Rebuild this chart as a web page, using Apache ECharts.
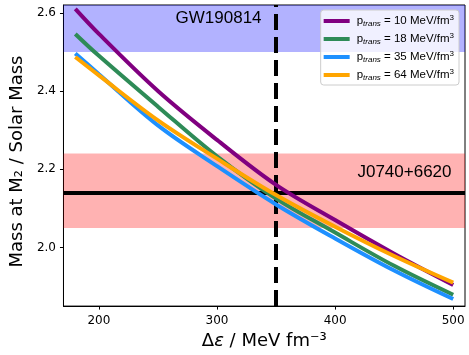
<!DOCTYPE html>
<html><head><meta charset="utf-8">
<script src="https://cdn.jsdelivr.net/npm/echarts@6/dist/echarts.min.js"></script>
<style>html,body{margin:0;padding:0;background:#fff}#c{width:469px;height:355px}</style>
</head><body><div id="c"></div>
<script>
// ---- data ----
const deltaEps = [180, 200, 250, 300, 350, 400, 450, 500];
const mass_p10 = [2.610, 2.546, 2.400, 2.275, 2.160, 2.070, 1.984, 1.904];
const mass_p18 = [2.546, 2.490, 2.360, 2.233, 2.125, 2.038, 1.953, 1.879];
const mass_p35 = [2.496, 2.443, 2.312, 2.208, 2.110, 2.023, 1.941, 1.868];
const mass_p64 = [2.487, 2.440, 2.325, 2.227, 2.134, 2.053, 1.978, 1.910];
const ptransValues = [10, 18, 35, 64];
const xTicks = [200, 300, 400, 500];
const yTicks = [2.0, 2.2, 2.4, 2.6];
const xRange = [170, 510];
const yRange = [1.85, 2.62];
const gwBand = [2.50, 2.62];
const j0740Band = [2.05, 2.24];
const j0740Mass = 2.14;
const deltaEpsCut = 350;
const annotationTexts = ['GW190814', 'J0740+6620'];
const annotationX = [270, 424];
const annotationY = [2.585, 2.193];

// ---- styles ----
const colors = ['#800080', '#2e8b57', '#1e90ff', '#ffa500'];
const massSeries = [mass_p10, mass_p18, mass_p35, mass_p64];
const names = ptransValues.map(v => 'p_trans = ' + v + ' MeV/fm3');

const chart = echarts.init(document.getElementById('c'), null, {renderer: 'canvas'});

const curveSeries = massSeries.map((arr, i) => ({
  name: names[i],
  type: 'line',
  data: deltaEps.map((x, j) => [x, arr[j]]),
  smooth: 0.35,
  showSymbol: false,
  symbol: 'none',
  z: 3 + i,
  lineStyle: {color: colors[i], width: 4, cap: 'butt'},
  itemStyle: {color: colors[i]},
  silent: true
}));

const option = {
  animation: false,
  backgroundColor: '#ffffff',
  grid: {left: 51, right: 4, top: 5, bottom: 42, show: true, borderColor: '#000', borderWidth: 1, backgroundColor: 'transparent'},
  xAxis: {
    type: 'value', min: xRange[0], max: xRange[1],
    axisLine: {show: true, lineStyle: {color: '#000', width: 1}},
    axisTick: {show: true, length: 3.5, customValues: xTicks, lineStyle: {color: '#000', width: 1}},
    axisLabel: {customValues: xTicks, fontFamily: 'DejaVu Sans', fontSize: 12, color: '#000', margin: 9},
    splitLine: {show: false},
    name: '{a|Δ}{b|ε}{a| / MeV fm⁻³}',
    nameLocation: 'middle', nameGap: 24,
    nameTextStyle: {
      fontFamily: 'DejaVu Sans', fontSize: 18, color: '#000',
      rich: {
        a: {fontFamily: 'DejaVu Sans', fontSize: 18, color: '#000'},
        b: {fontFamily: 'DejaVu Sans', fontSize: 18, fontStyle: 'italic', color: '#000'}
      }
    }
  },
  yAxis: {
    type: 'value', min: yRange[0], max: yRange[1],
    axisLine: {show: true, lineStyle: {color: '#000', width: 1}},
    axisTick: {show: true, length: 3.5, customValues: yTicks, lineStyle: {color: '#000', width: 1}},
    axisLabel: {customValues: yTicks, fontFamily: 'DejaVu Sans', fontSize: 12, color: '#000', margin: 7.5,
      formatter: v => Number(v).toFixed(1)},
    splitLine: {show: false},
    name: 'Mass at M₂ / Solar Mass',
    nameLocation: 'middle', nameGap: 31,
    nameTextStyle: {fontFamily: 'DejaVu Sans', fontSize: 18, color: '#000', padding: [0, 12, 0, 0]}
  },
  legend: {
    data: names,
    orient: 'vertical', right: 10, top: 10,
    icon: 'rect', itemWidth: 26, itemHeight: 4, itemGap: 4,
    padding: [4, 5, 3, 3],
    backgroundColor: 'rgba(255,255,255,0.8)', borderColor: '#cccccc', borderWidth: 1, borderRadius: 3,
    formatter: name => {
      const i = names.indexOf(name);
      return '{p|p}{sub|trans}{t| = ' + ptransValues[i] + ' MeV/fm}{sup|3}';
    },
    textStyle: {
      fontFamily: 'Liberation Sans', fontSize: 11.5, color: '#000', padding: [0, 0, 0, 2], lineHeight: 14,
      rich: {
        p: {fontFamily: 'Liberation Sans', fontSize: 11.5, color: '#000', lineHeight: 14},
        t: {fontFamily: 'Liberation Sans', fontSize: 11.5, color: '#000', lineHeight: 14},
        sub: {fontFamily: 'Liberation Sans', fontSize: 8, fontStyle: 'italic', color: '#000', lineHeight: 8, verticalAlign: 'bottom'},
        sup: {fontFamily: 'Liberation Sans', fontSize: 8, color: '#000', lineHeight: 8, verticalAlign: 'top'}
      }
    }
  },
  series: [
    {
      type: 'line', data: [], silent: true, z: 1,
      markArea: {
        silent: true, z: 1,
        data: [
          [{yAxis: gwBand[0], itemStyle: {color: 'rgba(0,0,255,0.3)'}}, {yAxis: gwBand[1]}],
          [{yAxis: j0740Band[0], itemStyle: {color: 'rgba(255,0,0,0.3)'}}, {yAxis: j0740Band[1]}]
        ]
      },
      markLine: {
        silent: true, symbol: ['none', 'none'], z: 2,
        label: {show: false},
        data: [
          {yAxis: j0740Mass, lineStyle: {color: '#000', width: 4, type: 'solid'}},
          [{coord: [deltaEpsCut, yRange[0]]}, {coord: [deltaEpsCut, yRange[1]]}]
        ],
        lineStyle: {color: '#000', width: 4, type: [16, 7], cap: 'butt'}
      }
    },
    ...curveSeries,
    {
      type: 'scatter', silent: true, z: 10, symbolSize: 0,
      itemStyle: {opacity: 1},
      data: annotationTexts.map((t, i) => ({name: t, value: [annotationX[i], annotationY[i]]})),
      label: {show: true, formatter: p => p.name, position: 'right', distance: 0, offset: [-6, 0],
        fontFamily: 'Liberation Sans', fontSize: 17, color: '#000', opacity: 1}
    }
  ]
};
chart.setOption(option);
</script></body></html>
